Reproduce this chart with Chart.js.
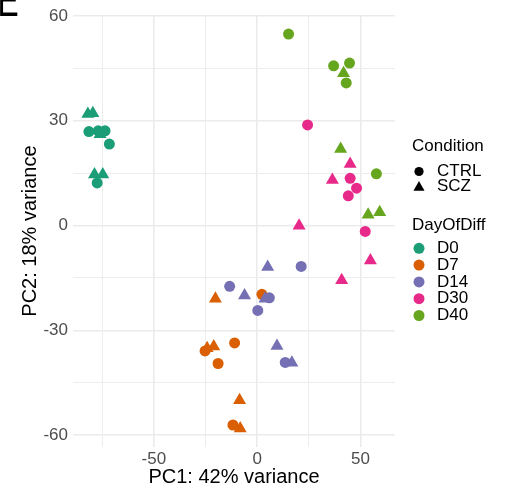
<!DOCTYPE html>
<html>
<head>
<meta charset="utf-8">
<script src="https://cdn.jsdelivr.net/npm/chart.js@4/dist/chart.umd.min.js"></script>
<style>
  html, body { margin: 0; padding: 0; background: #ffffff; }
  #wrap { position: relative; width: 510px; height: 487px; }
  canvas { display: block; }
</style>
</head>
<body>
<div id="wrap"><canvas id="pca" width="510" height="487"></canvas></div>
<script>
// PCA scores per sample, grouped by day of differentiation and condition
const days = ['D0', 'D7', 'D14', 'D30', 'D40'];
const conditions = ['CTRL', 'SCZ'];
const dayColors = ['#1B9E77', '#D95F02', '#7570B3', '#E7298A', '#66A61E'];

const D0_CTRL_PC1 = [-81.4, -76.9, -73.6, -71.5, -77.4];
const D0_CTRL_PC2 = [26.9, 27.1, 27.1, 23.3, 12.2];
const D0_SCZ_PC1 = [-81.9, -79.5, -76.0, -78.7, -74.7];
const D0_SCZ_PC2 = [31.9, 32.1, 26.1, 14.6, 14.6];

const D7_CTRL_PC1 = [2.3, -10.9, -25.2, -18.9, -11.7];
const D7_CTRL_PC2 = [-19.7, -33.6, -35.9, -39.5, -57.1];
const D7_SCZ_PC1 = [-20.2, -24.2, -21.0, -8.5, -8.2];
const D7_SCZ_PC2 = [-21.0, -35.1, -34.6, -50.0, -58.1];

const D14_CTRL_PC1 = [-13.3, 5.9, 0.3, 21.3, 13.6];
const D14_CTRL_PC2 = [-17.4, -20.7, -24.3, -11.7, -39.2];
const D14_SCZ_PC1 = [5.1, -6.1, 3.8, 9.6, 16.8];
const D14_SCZ_PC2 = [-11.9, -20.0, -21.0, -34.5, -39.3];

const D30_CTRL_PC1 = [24.4, 45.0, 48.1, 44.1, 52.3];
const D30_CTRL_PC2 = [28.8, 13.5, 10.7, 8.5, -1.7];
const D30_SCZ_PC1 = [45.0, 36.4, 20.3, 54.8, 40.9];
const D30_SCZ_PC2 = [17.6, 13.0, -0.1, -10.0, -15.7];

const D40_CTRL_PC1 = [15.2, 37.0, 44.7, 43.1, 57.7];
const D40_CTRL_PC2 = [54.8, 45.7, 46.5, 40.8, 14.8];
const D40_SCZ_PC1 = [41.8, 40.4, 53.7, 59.3];
const D40_SCZ_PC2 = [43.6, 21.9, 3.1, 3.8];

const xTicks = [-75, -50, -25, 0, 25, 50];
const xLabelled = [-50, 0, 50];
const yTicks = [-60, -45, -30, -15, 0, 15, 30, 45, 60];
const yLabelled = [-60, -30, 0, 30, 60];

const scores = {
  D0: { CTRL: [D0_CTRL_PC1, D0_CTRL_PC2], SCZ: [D0_SCZ_PC1, D0_SCZ_PC2] },
  D7: { CTRL: [D7_CTRL_PC1, D7_CTRL_PC2], SCZ: [D7_SCZ_PC1, D7_SCZ_PC2] },
  D14: { CTRL: [D14_CTRL_PC1, D14_CTRL_PC2], SCZ: [D14_SCZ_PC1, D14_SCZ_PC2] },
  D30: { CTRL: [D30_CTRL_PC1, D30_CTRL_PC2], SCZ: [D30_SCZ_PC1, D30_SCZ_PC2] },
  D40: { CTRL: [D40_CTRL_PC1, D40_CTRL_PC2], SCZ: [D40_SCZ_PC1, D40_SCZ_PC2] }
};

const FONT = '"Liberation Sans", Arial, Helvetica, sans-serif';
const CIRCLE_R = 5.5;
const TRIANGLE_R = 7.5;

const datasets = [];
let n = 0;
days.forEach((day, di) => {
  conditions.forEach(cond => {
    const [pc1, pc2] = scores[day][cond];
    datasets.push({
      label: day + ' ' + cond,
      data: pc1.map((x, i) => ({ x: x, y: pc2[i] })),
      pointStyle: cond === 'CTRL' ? 'circle' : 'triangle',
      pointRadius: cond === 'CTRL' ? CIRCLE_R : TRIANGLE_R,
      pointHoverRadius: cond === 'CTRL' ? CIRCLE_R : TRIANGLE_R,
      backgroundColor: dayColors[di],
      borderColor: dayColors[di],
      borderWidth: 0,
      showLine: false,
      order: 100 - n   // later groups are painted on top
    });
    n++;
  });
});

function gridStyle(majors) {
  return {
    drawTicks: false,
    color: '#EBEBEB',
    lineWidth: ctx => (ctx.tick && majors.includes(ctx.tick.value)) ? 1.6 : 0.9
  };
}

// Legend with two keys (shape = condition, colour = day) plus a panel tag
const sideLegend = {
  id: 'sideLegend',
  afterDraw(chart) {
    const ctx = chart.ctx;
    ctx.save();
    ctx.font = '17px ' + FONT;
    ctx.textBaseline = 'middle';
    ctx.textAlign = 'left';
    ctx.fillStyle = '#000000';

    const symX = 419, txtX = 437;
    ctx.fillText('Condition', 412, 146);
    ctx.beginPath();
    ctx.arc(symX, 171.5, 4.6, 0, Math.PI * 2);
    ctx.fill();
    ctx.fillText('CTRL', txtX, 171.5);
    const r = 6.4, cy = 187.5;
    ctx.beginPath();
    ctx.moveTo(symX, cy - r);
    ctx.lineTo(symX + r * Math.sin(2 * Math.PI / 3), cy + r / 2);
    ctx.lineTo(symX - r * Math.sin(2 * Math.PI / 3), cy + r / 2);
    ctx.closePath();
    ctx.fill();
    ctx.fillText('SCZ', txtX, 186.5);

    ctx.fillText('DayOfDiff', 412, 225);
    days.forEach((day, i) => {
      const y = 248.3 + i * 16.8;
      ctx.fillStyle = dayColors[i];
      ctx.beginPath();
      ctx.arc(symX, y, 5.5, 0, Math.PI * 2);
      ctx.fill();
      ctx.fillStyle = '#000000';
      ctx.fillText(day, txtX, y);
    });

    // panel tag in the top-left corner (mostly above the canvas edge)
    ctx.font = '46px ' + FONT;
    ctx.textBaseline = 'alphabetic';
    ctx.translate(-2.5, 16.3);
    ctx.scale(0.69, 1);
    ctx.fillText('E', 0, 0);
    ctx.restore();
  }
};

new Chart(document.getElementById('pca'), {
  type: 'scatter',
  data: { datasets: datasets },
  options: {
    responsive: false,
    animation: false,
    devicePixelRatio: 1,
    layout: { padding: { top: 14.6, right: 115, bottom: 0, left: 0 } },
    plugins: { legend: { display: false }, tooltip: { enabled: false } },
    events: [],
    scales: {
      x: {
        type: 'linear',
        min: -89.1,
        max: 66.7,
        afterBuildTicks: s => { s.ticks = xTicks.map(v => ({ value: v })); },
        afterFit: s => { s.height = 40; },
        grid: gridStyle(xLabelled),
        border: { display: false },
        ticks: {
          padding: 2,
          color: '#4D4D4D',
          font: { family: FONT, size: 17 },
          maxRotation: 0,
          callback: v => xLabelled.includes(v) ? String(v) : ''
        },
        title: {
          display: true,
          text: 'PC1: 42% variance',
          color: '#000000',
          font: { family: FONT, size: 20, lineHeight: 1.0 },
          padding: { top: 0, bottom: 0 }
        }
      },
      y: {
        type: 'linear',
        min: -63.4,
        max: 60.2,
        afterBuildTicks: s => { s.ticks = yTicks.map(v => ({ value: v })); },
        afterFit: s => { s.width = 73; },
        grid: gridStyle(yLabelled),
        border: { display: false },
        ticks: {
          padding: 5,
          color: '#4D4D4D',
          font: { family: FONT, size: 17 },
          callback: v => yLabelled.includes(v) ? String(v) : ''
        },
        title: {
          display: true,
          text: 'PC2: 18% variance',
          color: '#000000',
          font: { family: FONT, size: 20, lineHeight: 1.2 },
          padding: { top: 18.5, bottom: 0 }
        }
      }
    }
  },
  plugins: [sideLegend]
});
</script>
</body>
</html>
